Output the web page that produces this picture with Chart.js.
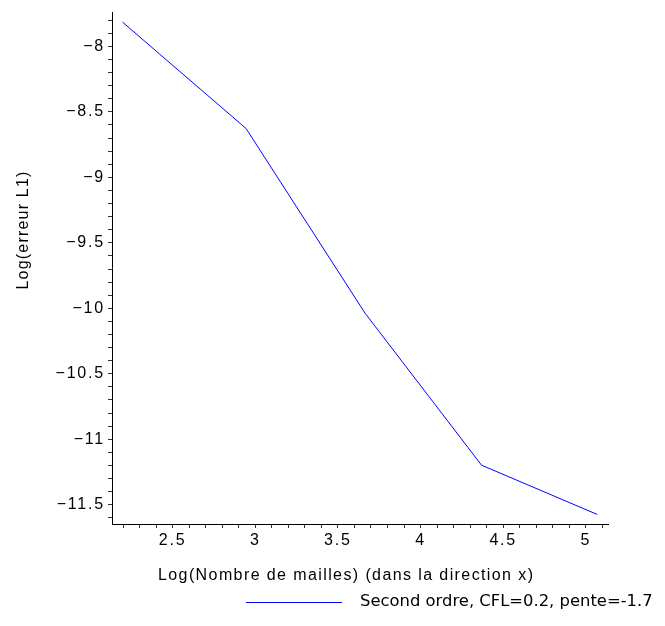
<!DOCTYPE html>
<html>
<head>
<meta charset="utf-8">
<script src="https://cdn.jsdelivr.net/npm/chart.js@4.4.1/dist/chart.umd.min.js"></script>
<style>
  html, body { margin: 0; padding: 0; background: #fff; }
  #wrap { width: 665px; height: 626px; }
</style>
</head>
<body>
<div id="wrap"><canvas id="errChart" width="665" height="626"></canvas></div>
<script>
// log(nombre de mailles) et log(erreur L1)
const logMailles = [2.197, 2.944, 3.664, 4.369, 5.069];
const logErreur = [-7.815, -8.627, -10.037, -11.198, -11.574];

const xTickLabels = [2.5, 3, 3.5, 4, 4.5, 5];
const yTickLabels = [-8, -8.5, -9, -9.5, -10, -10.5, -11, -11.5];

const xTitle = "Log(Nombre de mailles) (dans la direction x)";
const yTitle = "Log(erreur L1)";
const legendLabel = "Second ordre, CFL=0.2, pente=-1.7";

const ctx = document.getElementById("errChart").getContext("2d");

// petites graduations tous les 0.1
const minorTicks = (min, max) => {
    const out = [];
    for (let v = Math.ceil(min * 10); v <= Math.floor(max * 10); v++) {
        out.push({ value: v / 10 });
    }
    return out;
};

const isMajor = (v, list) => list.some(t => Math.abs(t - v) < 1e-6);
const fmt = v => (v < 0 ? "\u2212" + Math.abs(v) : String(v));

const textPlugin = {
    id: "textPlugin",
    beforeDraw: (chart) => {
        chart.ctx.letterSpacing = "1.8px";
    },
    afterDraw: (chart) => {
        const c = chart.ctx;
        c.save();
        c.fillStyle = "#000";
        // titre axe x
        c.letterSpacing = "1.4px";
        c.font = "16px 'Liberation Sans'";
        c.textAlign = "left";
        c.textBaseline = "middle";
        c.fillText(xTitle, 158, 576);
        // titre axe y
        c.save();
        c.translate(24, 230);
        c.rotate(-Math.PI / 2);
        c.textAlign = "center";
        c.letterSpacing = "1.2px";
        c.fillText(yTitle, 0, 0);
        c.restore();
        // légende
        c.letterSpacing = "0px";
        c.strokeStyle = "#0000ff";
        c.lineWidth = 1;
        c.beginPath();
        c.moveTo(246, 602.5);
        c.lineTo(342, 602.5);
        c.stroke();
        c.font = "16.4px 'DejaVu Sans'";
        c.fillText(legendLabel, 360, 602);
        c.restore();
    }
};

const errChart = new Chart(ctx, {
    type: "line",
    data: {
        datasets: [{
            label: legendLabel,
            data: logMailles.map((x, i) => ({ x: x, y: logErreur[i] })),
            borderColor: "#0000ff",
            borderWidth: 1,
            pointRadius: 0,
            fill: false,
            tension: 0
        }]
    },
    options: {
        responsive: false,
        animation: false,
        layout: { padding: { left: 0, right: 57, top: 5, bottom: 0 } },
        plugins: {
            legend: { display: false },
            tooltip: { enabled: false }
        },
        scales: {
            x: {
                type: "linear",
                min: 2.133,
                max: 5.134,
                afterBuildTicks: (scale) => { scale.ticks = minorTicks(scale.min, scale.max); },
                afterFit: (scale) => { scale.height = 102; },
                border: { display: true, color: "#000", width: 1 },
                grid: { drawOnChartArea: false, drawTicks: true, tickLength: 4, tickColor: "#333" },
                ticks: {
                    autoSkip: false,
                    maxRotation: 0,
                    padding: 3,
                    color: "#000",
                    font: { family: "'Liberation Sans'", size: 16 },
                    callback: (v) => (isMajor(v, xTickLabels) ? fmt(v) : "")
                }
            },
            y: {
                type: "linear",
                min: -11.647,
                max: -7.742,
                afterBuildTicks: (scale) => { scale.ticks = minorTicks(scale.min, scale.max); },
                afterFit: (scale) => { scale.width = 112; },
                border: { display: true, color: "#000", width: 1 },
                grid: { drawOnChartArea: false, drawTicks: true, tickLength: 4, tickColor: "#333" },
                ticks: {
                    autoSkip: false,
                    padding: 3,
                    color: "#000",
                    font: { family: "'Liberation Sans'", size: 16 },
                    callback: (v) => (isMajor(v, yTickLabels) ? fmt(v) : "")
                }
            }
        }
    },
    plugins: [textPlugin]
});
</script>
</body>
</html>
